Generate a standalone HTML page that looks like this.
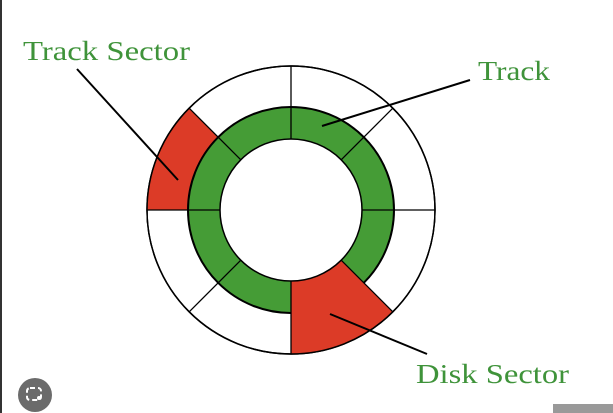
<!DOCTYPE html>
<html><head><style>
html,body{margin:0;padding:0;background:#fff;width:613px;height:413px;overflow:hidden}
</style></head><body>
<svg width="613" height="413" xmlns="http://www.w3.org/2000/svg" style="position:absolute;left:0;top:0">
<rect x="0" y="0" width="2" height="413" fill="#333"/>
<rect x="553" y="404" width="60" height="9" fill="#999"/>
<circle cx="291" cy="210" r="144" fill="#fff" stroke="#000" stroke-width="1.5"/>
<path d="M147,210 A144,144 0 0 1 189.2,108.2 L218.2,137.2 A103,103 0 0 0 188,210 Z" fill="#dc3b27"/>
<circle cx="291" cy="210" r="103" fill="#459c36" stroke="#000" stroke-width="2"/>
<path d="M392.8,311.8 A144,144 0 0 1 291,354 L291,281 A71,71 0 0 0 341.2,260.2 Z" fill="#dc3b27"/>
<circle cx="291" cy="210" r="144" fill="none" stroke="#000" stroke-width="1.5"/>
<circle cx="291" cy="210" r="71" fill="#fff" stroke="#000" stroke-width="1.5"/>
<g stroke="#000" stroke-width="1.3">
<line x1="291" y1="139" x2="291" y2="66"/>
<line x1="291" y1="281" x2="291" y2="354"/>
<line x1="220" y1="210" x2="147" y2="210"/>
<line x1="362" y1="210" x2="435" y2="210"/>
<line x1="341.2" y1="159.8" x2="392.8" y2="108.2"/>
<line x1="240.8" y1="159.8" x2="189.2" y2="108.2"/>
<line x1="341.2" y1="260.2" x2="392.8" y2="311.8"/>
<line x1="240.8" y1="260.2" x2="189.2" y2="311.8"/>
</g>
<g stroke="#000" stroke-width="2">
<line x1="77" y1="69" x2="178" y2="180"/>
<line x1="470" y1="80" x2="322" y2="126"/>
<line x1="330" y1="314" x2="427" y2="354"/>
</g>
<g font-family="Liberation Serif, serif" fill="#3f933a" font-size="27">
<text x="23" y="60" textLength="167" lengthAdjust="spacingAndGlyphs">Track Sector</text>
<text x="478" y="80" textLength="72" lengthAdjust="spacingAndGlyphs">Track</text>
<text x="416" y="383" textLength="153" lengthAdjust="spacingAndGlyphs">Disk Sector</text>
</g>
<circle cx="35" cy="395" r="17" fill="#6b6b6b"/>
<rect x="27" y="388" width="14" height="12" rx="3" fill="none" stroke="#fff" stroke-width="2" stroke-dasharray="5 3"/>
<circle cx="39" cy="398" r="2" fill="#fff"/>
</svg>
</body></html>
